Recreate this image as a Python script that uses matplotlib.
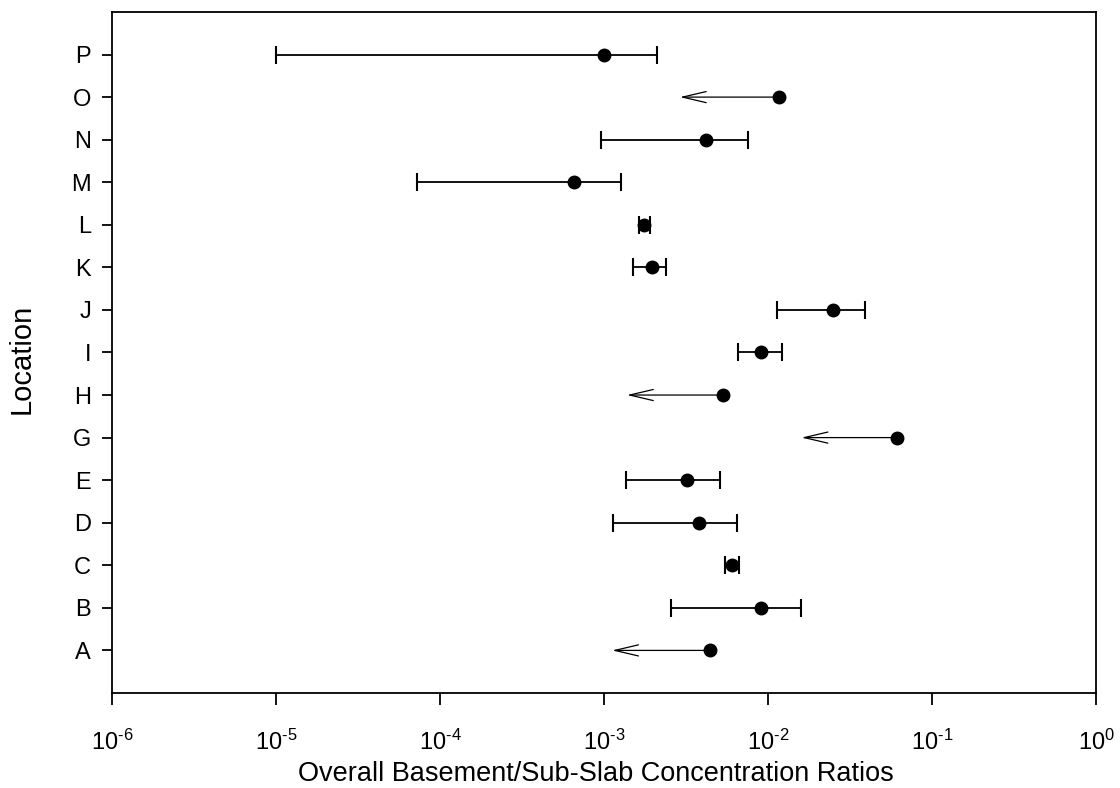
import matplotlib
matplotlib.use("Agg")
import matplotlib.pyplot as plt
import numpy as np

# Locations, bottom to top (no F in the original figure)
locations = ['A', 'B', 'C', 'D', 'E', 'G', 'H', 'I', 'J', 'K', 'L', 'M', 'N', 'O', 'P']
# overall basement / sub-slab concentration ratio
ratio = [0.0044, 0.0090, 0.0060, 0.0038, 0.0032, 0.061, 0.0053, 0.0091,
         0.0248, 0.00195, 0.00176, 0.00066, 0.0042, 0.0117, 0.0010]
# lower end of range (arrow tip for the censored rows)
lower = [0.00112, 0.00257, 0.00546, 0.00114, 0.00137, 0.016, 0.00138, 0.0066,
         0.0114, 0.00151, 0.00164, 0.000072, 0.00096, 0.0029, 0.00001]
# upper end of range (nan = only an upper bound, drawn as arrow)
upper = [np.nan, 0.0158, 0.0067, 0.0065, 0.00506, np.nan, np.nan, 0.0121,
         0.039, 0.0024, 0.00191, 0.00127, 0.0076, np.nan, 0.0021]

xticks = [1e-6, 1e-5, 1e-4, 1e-3, 1e-2, 1e-1, 1e0]
xticklabels = ['$\\mathregular{10^{\\text{-}6}}$', '$\\mathregular{10^{\\text{-}5}}$',
               '$\\mathregular{10^{\\text{-}4}}$', '$\\mathregular{10^{\\text{-}3}}$',
               '$\\mathregular{10^{\\text{-}2}}$', '$\\mathregular{10^{\\text{-}1}}$',
               '$\\mathregular{10^{0}}$']


def main():
    plt.rcParams['font.family'] = ['Liberation Sans', 'DejaVu Sans']
    plt.rcParams['mathtext.fontset'] = 'custom'
    plt.rcParams['mathtext.rm'] = 'Liberation Sans'

    fig = plt.figure(figsize=(11.2, 7.88), dpi=100)
    ax = fig.add_axes([0.1, 0.1206, 0.8786, 0.8642])

    ypos = np.arange(1, len(locations) + 1)
    r = np.array(ratio)
    lo = np.array(lower)
    hi = np.array(upper)
    ranged = ~np.isnan(hi)

    # ranges with caps
    ax.errorbar(r[ranged], ypos[ranged],
                xerr=[r[ranged] - lo[ranged], hi[ranged] - r[ranged]],
                fmt='none', ecolor='black', elinewidth=1.3, capsize=6.5,
                capthick=1.5, zorder=2)

    # only an upper bound: open arrow to the left
    for i in np.where(~ranged)[0]:
        ax.annotate('', xy=(lo[i], ypos[i]), xytext=(r[i], ypos[i]),
                    arrowprops=dict(arrowstyle='->,head_length=0.85,head_width=0.2',
                                    mutation_scale=20, lw=0.9, color='black',
                                    shrinkA=0, shrinkB=0),
                    zorder=2)

    ax.plot(r, ypos, 'o', color='black', markersize=9, zorder=3)

    ax.set_xscale('log')
    ax.set_xlim(1e-6, 1)
    ax.set_ylim(0, 16)
    ax.set_xticks(xticks)
    ax.set_xticklabels(xticklabels)
    ax.xaxis.set_minor_locator(matplotlib.ticker.NullLocator())
    ax.set_yticks(ypos)
    ax.set_yticklabels(locations)

    ax.tick_params(axis='x', direction='out', length=8.5, width=1.3, labelsize=17, pad=18)
    ax.tick_params(axis='y', direction='out', length=7, width=1.3, labelsize=17, pad=8)
    for s in ax.spines.values():
        s.set_linewidth(1.3)

    ax.set_xlabel('Overall Basement/Sub-Slab Concentration Ratios', fontsize=19.5)
    ax.xaxis.set_label_coords(0.492, -0.1)
    ax.set_ylabel('Location', fontsize=21)
    ax.yaxis.set_label_coords(-0.078, 0.49)

    fig.savefig('out.png', dpi=100)


if __name__ == "__main__":
    main()
